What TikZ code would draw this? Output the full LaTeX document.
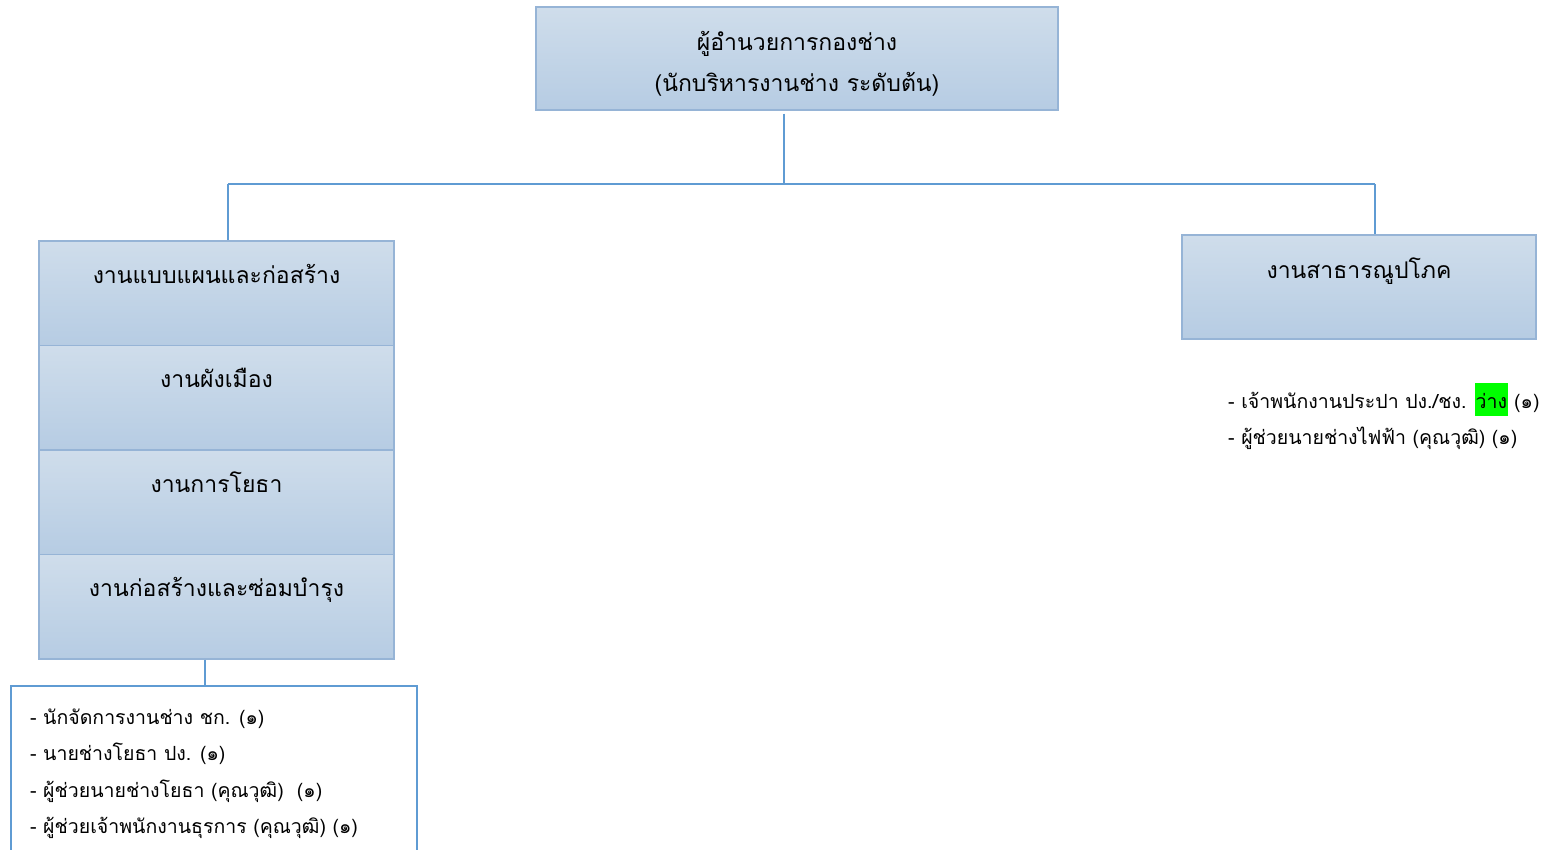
\documentclass[tikz,border=0pt]{standalone}
\usepackage{fontspec}
\setmainfont[Script=Thai]{Loma}
\usepackage{xcolor}
\definecolor{boxtop}{RGB}{207,221,235}
\definecolor{boxbot}{RGB}{182,204,227}
\definecolor{boxline}{RGB}{150,180,214}
\definecolor{link}{RGB}{95,155,211}
\definecolor{hi}{RGB}{0,255,0}
\usetikzlibrary{calc}

\tikzset{
unit/.style={draw=boxline, line width=1.3pt, top color=boxtop, bottom color=boxbot, inner sep=0pt},
title/.style={font=\fontsize{23}{41}\selectfont, align=center, anchor=base},
item/.style={font=\fontsize{19.5}{23}\selectfont, anchor=base west, inner sep=0pt},
link/.style={draw=link, line width=1.5pt}
}

\begin{document}
\begin{tikzpicture}[x=1pt, y=-1pt]
\useasboundingbox (0,0) rectangle (1553,849);
% head
\node[unit, minimum width=522, minimum height=103] (boss) at (797,58.5) {};
\node[title] (bosst) at (797,50) {ผู้อำนวยการกองช่าง};
\node[title] (bosst2) at (797,91) {(นักบริหารงานช่าง ระดับต้น)};
% sections on the left
\foreach \i/\txt in {0/งานแบบแผนและก่อสร้าง, 1/งานผังเมือง, 2/งานการโยธา, 3/งานก่อสร้างและซ่อมบำรุง}{
\node[unit, minimum width=355, minimum height=104.5] (sec\i) at (216.5,293.25+104.5*\i) {};
\node[title] (sect\i) at (216.5,283+104.5*\i) {\txt};
}
% section on the right
\node[unit, minimum width=354, minimum height=104] (util) at (1359,287) {};
\node[title] (utilt) at (1359,278) {งานสาธารณูปโภค};
% tree lines
\coordinate (hub) at (784,184);
\coordinate (lt) at (228,184);
\coordinate (rt) at (1375,184);
\coordinate (drop) at (205,685);
\draw[link] ($(boss.south -| hub)+(0,3)$) -- (hub);
\draw[link] (lt) -- (rt);
\draw[link] (lt) -- (lt |- sec0.north);
\draw[link] (rt) -- (rt |- util.north);
\draw[link] (sec3.south -| drop) -- (drop);
% staff lists
\node[draw=link, line width=2.2pt, minimum width=406, minimum height=200, anchor=north west, inner sep=0pt] (staff) at (10,685) {};
\foreach \i/\txt in {0/- นักจัดการงานช่าง ชก. (๑), 1/- นายช่างโยธา ปง. (๑), 2/- ผู้ช่วยนายช่างโยธา (คุณวุฒิ)~~(๑), 3/- ผู้ช่วยเจ้าพนักงานธุรการ (คุณวุฒิ) (๑)}{
\node[item] (st\i) at (30,724+36.5*\i) {\txt};
}
\node[item] (ut0) at (1228,408) {- เจ้าพนักงานประปา ปง./ชง. {\setlength{\fboxsep}{0.5pt}\colorbox{hi}{\rule[-7pt]{0pt}{32pt}ว่าง}} (๑)};
\node[item] (ut1) at (1228,444) {- ผู้ช่วยนายช่างไฟฟ้า (คุณวุฒิ) (๑)};
\end{tikzpicture}
\end{document}
